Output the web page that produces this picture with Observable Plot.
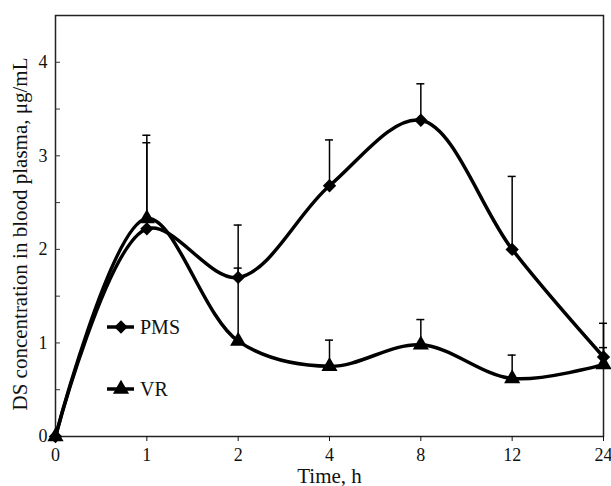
<!DOCTYPE html>
<html>
<head>
<meta charset="utf-8">
<script src="https://cdn.jsdelivr.net/npm/d3@7"></script>
<script src="https://cdn.jsdelivr.net/npm/@observablehq/plot@0.6"></script>
<style>
  html, body { margin: 0; padding: 0; background: #fff; }
  #wrap { position: relative; width: 611px; height: 486px; }
  #legend { position: absolute; left: 0; top: 0; pointer-events: none; }
  #wrap g[aria-label$="tick label"], #wrap g[aria-label$="tick label"] text { font-size: 18px !important; }
</style>
</head>
<body>
<div id="wrap"></div>
<script>
// ---- data ----
const times = ["0", "1", "2", "4", "8", "12", "24"];          // Time, h (evenly spaced categories)
const pms    = [0, 2.22, 1.70, 2.68, 3.38, 2.00, 0.85];        // PMS mean
const pmsTop = [0, 3.14, 2.26, 3.17, 3.77, 2.78, 1.21];        // PMS upper error bar end
const vr     = [0, 2.33, 1.02, 0.75, 0.98, 0.62, 0.77];        // VR mean
const vrTop  = [0, 3.22, 1.80, 1.03, 1.25, 0.87, 0.95];        // VR upper error bar end
const series = ["PMS", "VR"];
const yTicks = [0, 1, 2, 3, 4];
const yMinorTicks = [0, 0.5, 1, 1.5, 2, 2.5, 3, 3.5, 4];

const rows = [];
times.forEach((t, i) => {
  rows.push({i, t, v: pms[i], top: pmsTop[i], series: "PMS"});
  rows.push({i, t, v: vr[i], top: vrTop[i], series: "VR"});
});
const errRows = rows.filter(d => d.top > d.v);

const font = "'Liberation Serif', 'Times New Roman', serif";

const chart = Plot.plot({
  width: 611,
  height: 486,
  marginLeft: 55,
  marginRight: 8,
  marginTop: 15,
  marginBottom: 50,
  style: {fontFamily: font, fontSize: "18px", color: "#111", background: "#fff"},
  x: {domain: [0, times.length - 1], label: null},
  y: {domain: [0, 4.5], label: null},
  symbol: {domain: series, range: ["diamond2", "triangle"]},
  marks: [
    Plot.frame({stroke: "#222", strokeWidth: 1.5}),
    // inward y ticks
    Plot.ruleY(yMinorTicks, {y: d => d, x1: 0, x2: 0, insetRight: -5, stroke: "#333", strokeWidth: 1}),
    Plot.axisY({ticks: yTicks, tickFormat: d => String(d), tickSize: 0, tickPadding: 8, fontSize: 18, fill: "#111", label: null}),
    Plot.axisX({ticks: d3.range(times.length), tickFormat: i => times[i], tickSize: 5, tickPadding: 7, fontSize: 18, fill: "#111", label: null}),
    // error bars
    Plot.ruleX(errRows, {x: "i", y1: "v", y2: "top", stroke: "#000", strokeWidth: 1.5}),
    Plot.ruleY(errRows, {y: "top", x1: "i", x2: "i", insetLeft: -4, insetRight: -4, stroke: "#000", strokeWidth: 1.5}),
    // curves
    Plot.line(rows, {x: "i", y: "v", z: "series", curve: "catmull-rom", stroke: "#000", strokeWidth: 3.5}),
    Plot.dot(rows, {x: "i", y: "v", symbol: "series", fill: "#000", stroke: "none", r: 6}),
    // axis titles
    Plot.text(["Time, h"], {frameAnchor: "bottom", dy: 46, fontSize: 21, fill: "#111"}),
    Plot.text(["DS concentration in blood plasma, μg/mL"], {frameAnchor: "left", textAnchor: "middle", dx: -35, dy: 8, rotate: -90, fontSize: 21, fill: "#111"})
  ]
});

const wrap = document.getElementById("wrap");
wrap.appendChild(chart);

// ---- in-plot legend (overlay) ----
const legendItems = [
  {label: "PMS", symbol: d3.symbolDiamond2, y: 327},
  {label: "VR", symbol: d3.symbolTriangle, y: 389}
];
const leg = d3.create("svg").attr("id", "legend").attr("width", 611).attr("height", 486);
const g = leg.selectAll("g").data(legendItems).join("g").attr("transform", d => `translate(0,${d.y})`);
g.append("line").attr("x1", 107).attr("x2", 134).attr("y1", 0).attr("y2", 0).attr("stroke", "#000").attr("stroke-width", 3.5);
g.append("path").attr("transform", "translate(121,0)").attr("d", d => d3.symbol(d.symbol, 113)()).attr("fill", "#000");
g.append("text").attr("x", 140).attr("y", 0).attr("dy", "0.34em").attr("font-family", font).attr("font-size", 20).attr("fill", "#111").text(d => d.label);
wrap.appendChild(leg.node());
</script>
</body>
</html>
